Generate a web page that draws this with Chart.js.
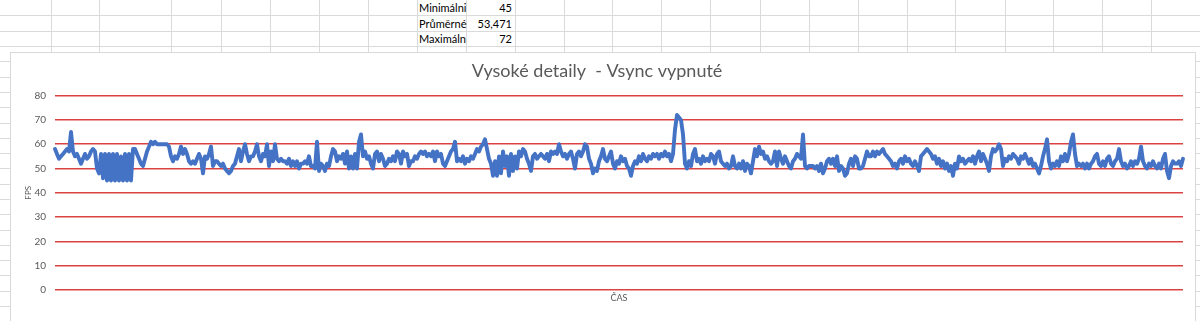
<!DOCTYPE html>
<html>
<head>
<meta charset="utf-8">
<script src="https://cdn.jsdelivr.net/npm/chart.js@4.4.0/dist/chart.umd.min.js"></script>
<style>
  html, body { margin: 0; padding: 0; }
  body { width: 1200px; height: 321px; overflow: hidden; position: relative; background: #fff; font-family: Lato, "Open Sans", sans-serif; }
  .hl { position: absolute; left: 0; width: 1200px; height: 1px; background: #dadada; }
  .vl { position: absolute; top: 0; width: 1px; height: 52px; background: #dadada; }
  .cell { position: absolute; height: 15px; line-height: 15px; font-size: 11px; color: #000; white-space: nowrap; }
  .num { text-align: right; width: 46px; }
  #box { position: absolute; left: 10px; top: 52px; width: 1184px; height: 290px; border: 1px solid #d9d9d9; background: #fff; }
  #wrap { position: absolute; left: 0; top: 0; width: 1184px; height: 260px; }
</style>
</head>
<body>
<div id="sheet"></div>
<div class="cell" style="left:419px;top:0px;">Minimálni</div>
<div class="cell num" style="left:466px;top:0px;" id="vMin"></div>
<div class="cell" style="left:419px;top:16px;">Průměrné</div>
<div class="cell num" style="left:466px;top:16px;" id="vAvg"></div>
<div class="cell" style="left:419px;top:31px;">Maximáln</div>
<div class="cell num" style="left:466px;top:31px;" id="vMax"></div>
<div id="box"><div id="wrap"><canvas id="fpsChart" width="1184" height="260"></canvas></div></div>
<script>
// summary cells
const statValues = ["45", "53,471", "72"];

// y axis
const yMin = 0;
const yMax = 80;
const yStep = 10;

// fps samples
const fps = [
  58,56,54,55,56,57,58,57,65,57, 55,56,54,52,54,56,54,55,57,58,
  57,50,48,56,46,56,45,56,45,56, 45,56,45,55,45,56,45,56,45,58,
  58,56,54,52,51,54,57,59,61,60, 61,60,60,60,60,60,60,59,55,53,
  55,54,56,59,56,58,56,53,52,53, 52,54,56,54,48,55,54,56,59,51,
  53,53,52,51,52,50,49,48,49,51, 52,55,58,53,57,60,56,53,55,55,
  57,60,55,53,56,55,60,51,57,53, 60,54,53,54,53,53,52,54,51,53,
  51,53,50,52,52,53,52,55,51,51, 50,61,49,52,51,49,52,51,55,58,
  57,53,55,54,56,52,57,50,55,50, 56,50,61,64,55,57,54,55,52,50,
  56,57,53,56,54,51,52,54,53,55, 53,57,56,52,57,55,56,51,53,53,
  55,54,56,57,56,57,55,56,55,57, 53,57,55,56,52,51,53,55,57,58,
  61,53,54,53,55,52,54,53,55,54, 56,58,57,59,60,62,58,54,52,47,
  53,47,55,48,57,51,55,47,56,49, 55,50,57,55,58,57,54,52,49,55,
  56,54,55,56,55,54,56,53,57,56, 57,56,60,57,55,56,54,56,57,54,
  50,56,57,55,57,60,59,54,52,48, 50,49,53,55,58,54,53,55,57,52,
  50,
  53,52,55,53,54,51,50,47,51,53, 52,55,53,56,54,53,55,54,56,55,
  56,54,56,55,57,55,56,53,56,66, 72,71,70,64,52,50,53,51,56,58,
  53,54,52,55,53,54,53,56,55,52, 56,57,53,52,51,52,50,51,55,51,
  50,52,50,53,49,52,51,48,53,58, 55,59,56,57,54,55,53,52,53,57,
  51,57,54,52,55,53,51,50,53,54, 56,55,54,64,51,50,51,51,51,50,
  51,49,52,48,50,53,54,52,54,51, 55,49,51,50,47,48,52,54,51,55,
  54,50,50,51,54,57,55,55,57,55, 57,56,57,58,56,55,54,53,51,52,
  50,53,54,52,55,53,54,52,51,53, 51,49,55,56,57,58,57,56,54,55,
  52,54,51,53,50,52,49,51,47,52, 50,55,53,54,52,53,54,53,55,52,
  55,57,53,56,54,52,49,55,58,57, 58,60,58,51,54,53,55,54,56,55,
  54,52,55,54,56,54,52,54,51,52, 50,48,51,55,58,62,53,50,52,51,
  53,51,55,53,56,53,56,61,64,56, 51,52,51,52,50,52,50,52,53,55,
  56,52,51,53,51,54,55,52,51,53, 54,58,53,51,52,50,51,53,51,53,
  52,54,59,53,51,50,52,51,53,51, 50,52,50,54,56,49,46,51,53,52,
  52,53,51,54
];
const timeLabels = fps.map((v, i) => String(i + 1));

// spreadsheet grid behind the chart
const sheet = document.getElementById("sheet");
[15, 31, 46, 61, 77, 92, 107, 123, 138, 153, 168, 184, 199, 214, 230, 245, 260, 275, 291, 306].forEach((y) => {
  const d = document.createElement("div");
  d.className = "hl";
  d.style.top = y + "px";
  sheet.appendChild(d);
});
[51, 99, 171, 221, 270, 319, 368, 417, 466, 515, 564, 612, 661, 710, 760, 809, 858, 907, 955, 1005, 1053, 1102, 1151].forEach((x) => {
  const d = document.createElement("div");
  d.className = "vl";
  d.style.left = x + "px";
  sheet.appendChild(d);
});
document.getElementById("vMin").textContent = statValues[0];
document.getElementById("vAvg").textContent = statValues[1];
document.getElementById("vMax").textContent = statValues[2];

const gray = "#595959";
const ctx = document.getElementById("fpsChart").getContext("2d");
new Chart(ctx, {
  type: "line",
  data: {
    labels: timeLabels,
    datasets: [{
      data: fps,
      borderColor: "#4472c4",
      borderWidth: 3.9,
      borderJoinStyle: "round",
      borderCapStyle: "round",
      pointRadius: 0,
      tension: 0,
      fill: false,
    }],
  },
  options: {
    responsive: false,
    animation: false,
    layout: { padding: { left: 0, right: 12, top: 0, bottom: 0 } },
    plugins: {
      legend: { display: false },
      tooltip: { enabled: false },
      title: {
        display: true,
        text: "Vysoké detaily  - Vsync vypnuté",
        color: gray,
        font: { family: "Lato", size: 18, weight: "normal" },
        padding: { top: 7, bottom: 14 },
      },
    },
    scales: {
      x: {
        grid: { display: false },
        border: { display: false },
        ticks: { display: false },
        title: { display: true, text: "ČAS", color: gray, font: { family: "Lato", size: 9 }, padding: { top: 0, bottom: 10 } },
        afterFit: (s) => { s.height = 23; },
      },
      y: {
        min: yMin,
        max: yMax,
        ticks: { stepSize: yStep, color: gray, font: { family: "Lato", size: 10 }, padding: 9 },
        grid: { color: "rgba(210, 20, 20, 0.8)", lineWidth: 1.6, drawTicks: false },
        border: { display: false },
        title: { display: true, text: "FPS", color: gray, font: { family: "Lato", size: 8 }, padding: { top: 13, bottom: 0 } },
        afterFit: (s) => { s.width = 44; },
      },
    },
  },
});
</script>
</body>
</html>
